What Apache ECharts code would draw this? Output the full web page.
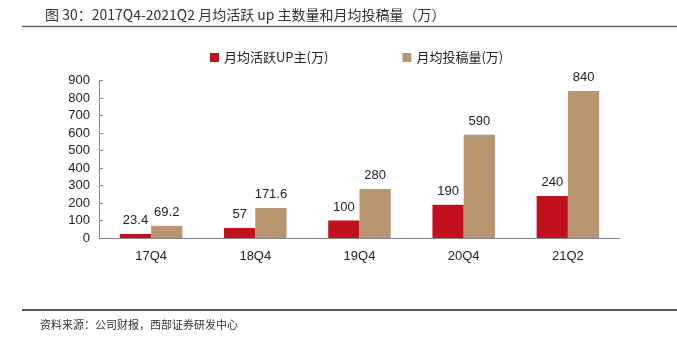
<!DOCTYPE html>
<html><head><meta charset="utf-8">
<script src="https://cdn.jsdelivr.net/npm/echarts@6/dist/echarts.min.js"></script>
<style>html,body{margin:0;padding:0;background:#fff}#c{width:677px;height:344px}</style>
</head><body><div id="c"></div>
<script>
const categories = ['17Q4', '18Q4', '19Q4', '20Q4', '21Q2'];
const activeUp = [23.4, 57, 100, 190, 240];
const submissions = [69.2, 171.6, 280, 590, 840];
const seriesNames = ['月均活跃UP主(万)', '月均投稿量(万)'];
const yTicks = { min: 0, max: 900, interval: 100 };

const chart = echarts.init(document.getElementById('c'), null, { renderer: 'canvas' });
const cjk = '"Noto Sans CJK SC", sans-serif';
const lat = '"Liberation Sans", Arial, sans-serif';
chart.setOption({
  animation: false,
  title: {
    text: '图 30：2017Q4-2021Q2 月均活跃 up 主数量和月均投稿量（万）',
    left: 40, top: 3,
    textStyle: { fontFamily: cjk, fontSize: 14, fontWeight: 'normal', color: '#333' }
  },
  graphic: [
    { type: 'line', shape: { x1: 22, y1: 26.5, x2: 677, y2: 26.5 }, style: { stroke: '#666', lineWidth: 1.5 } },
    { type: 'line', shape: { x1: 22, y1: 310, x2: 677, y2: 310 }, style: { stroke: '#555', lineWidth: 2 } },
    { type: 'text', left: 40, top: 319, style: { text: '资料来源：公司财报，西部证券研发中心', font: '11px "Noto Sans CJK SC"', fill: '#333' } }
  ],
  legend: {
    top: 46, left: 205, itemGap: 74, itemWidth: 9, itemHeight: 9, icon: 'rect',
    textStyle: { fontFamily: cjk, fontSize: 13, color: '#222' },
    data: seriesNames
  },
  grid: { left: 99, right: 57, top: 80.5, bottom: 106 },
  xAxis: {
    type: 'category', data: categories,
    axisLine: { lineStyle: { color: '#888' } },
    axisTick: { inside: true, length: 4, lineStyle: { color: '#888' } },
    axisLabel: { fontFamily: lat, fontSize: 13, color: '#222', margin: 12 }
  },
  yAxis: {
    type: 'value', min: yTicks.min, max: yTicks.max, interval: yTicks.interval,
    splitLine: { show: false },
    axisLine: { show: true, lineStyle: { color: '#888' } },
    axisTick: { show: true, inside: true, length: 4, lineStyle: { color: '#888' } },
    axisLabel: { fontFamily: lat, fontSize: 13, color: '#222', margin: 9 }
  },
  series: [
    { name: seriesNames[0], type: 'bar', data: activeUp, barWidth: '30%', barGap: '0%',
      itemStyle: { color: '#C2101D' },
      label: { show: true, position: 'top', distance: 7, fontFamily: lat, fontSize: 13, color: '#222' } },
    { name: seriesNames[1], type: 'bar', data: submissions, barWidth: '30%',
      itemStyle: { color: '#B8966F' },
      label: { show: true, position: 'top', distance: 7, fontFamily: lat, fontSize: 13, color: '#222' } }
  ]
});
</script></body></html>
